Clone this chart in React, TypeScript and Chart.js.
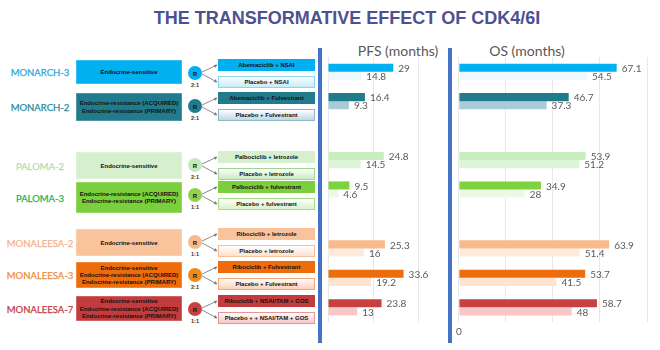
import React, { useEffect, useRef } from 'react';
import { Chart, registerables } from 'chart.js';
Chart.register(...registerables);

// ---- data ----
const studies = ['MONARCH-3', 'MONARCH-2', 'PALOMA-2', 'PALOMA-3', 'MONALEESA-2', 'MONALEESA-3', 'MONALEESA-7'];
const populations = [
  ['Endocrine-sensitive'],
  ['Endocrine-resistance (ACQUIRED)', 'Endocrine-resistance (PRIMARY)'],
  ['Endocrine-sensitive'],
  ['Endocrine-resistance (ACQUIRED)', 'Endocrine-resistance (PRIMARY)'],
  ['Endocrine-sensitive'],
  ['Endocrine-sensitive', 'Endocrine-resistance (ACQUIRED)', 'Endocrine-resistance (PRIMARY)'],
  ['Endocrine-sensitive', 'Endocrine-resistance (ACQUIRED)', 'Endocrine-resistance (PRIMARY)'],
];
const ratios = ['2:1', '2:1', '2:1', '1:1', '1:1', '2:1', '1:1'];
const treatmentArms = ['Abemaciclib + NSAI', 'Abemaciclib + Fulvestrant', 'Palbociclib + letrozole', 'Palbociclib + fulvestrant', 'Ribociclib + letrozole', 'Ribociclib + Fulvestrant', 'Ribociclib + NSAI/TAM + GOS'];
const placeboArms = ['Placebo + NSAI', 'Placebo + Fulvestrant', 'Placebo + letrozole', 'Placebo + fulvestrant', 'Placebo + letrozole', 'Placebo + Fulvestrant', 'Placebo + + NSAI/TAM + GOS'];

// bar chart rows (blank rows separate the drug families)
const categories = ['MONARCH-3', 'MONARCH-2', '', 'PALOMA-2', 'PALOMA-3', ' ', 'MONALEESA-2', 'MONALEESA-3', 'MONALEESA-7'];
const pfsTreatment = [29, 16.4, null, 24.8, 9.5, null, 25.3, 33.6, 23.8];
const pfsPlacebo = [14.8, 9.3, null, 14.5, 4.6, null, 16, 19.2, 13];
const osTreatment = [67.1, 46.7, null, 53.9, 34.9, null, 63.9, 53.7, 58.7];
const osPlacebo = [54.5, 37.3, null, 51.2, 28, null, 51.4, 41.5, 48];

// ---- styles ----
const treatmentColors = ['#00b0f0', '#217b8d', null, '#c8eec0', '#7ed23c', null, '#f8b98b', '#ed6d0c', '#c8403f'];
const placeboColors = ['#eef9fe', '#a9cbd9', null, '#dcf5d6', '#ecf9e5', null, '#fdebdc', '#fde3d2', '#f8c8c8'];
const nameColors = ['#1da9e0', '#2b8a9c', '#b5ddab', '#22b24c', '#f5b38a', '#ee8d40', '#c23a40'];
const mainColors = ['#00b0f0', '#217b8c', '#d6f0cd', '#7ccf3c', '#f9c39b', '#ef6c0a', '#c33c3d'];
const armEndColors = ['#c6ebf9', '#bcd6e1', '#c6ebbd', '#d6f2c6', '#fde0cb', '#fbcdb3', '#f8c3c3'];
const armBorderColors = ['#8fd3ee', '#8fb8c7', '#9fd595', '#a7dc86', '#f4c09a', '#f2a77a', '#e59595'];
const circleColors = ['#00b0f0', '#217b8c', '#c3ebb9', '#92d050', '#f9b98a', '#f08a1c', '#c9413f'];

// layout of the left flow panel
const blockTops = [60, 93, 152, 182, 229, 262, 296];
const mainHeights = [24, 28, 27, 31, 27, 26, 25];

const labelFont = '10px Lato, "Open Sans", sans-serif';

const valueLabels = {
  id: 'valueLabels',
  afterDatasetsDraw(chart: any) {
    const ctx = chart.ctx;
    ctx.save();
    ctx.font = labelFont;
    ctx.fillStyle = '#595959';
    ctx.textBaseline = 'middle';
    ctx.textAlign = 'left';
    chart.data.datasets.forEach((ds: any, di: number) => {
      const meta = chart.getDatasetMeta(di);
      meta.data.forEach((el: any, i: number) => {
        const v = ds.data[i];
        if (v == null) return;
        ctx.fillText(String(v), el.x + 5, el.y + 1);
      });
    });
    ctx.restore();
  },
};

function makeConfig(tr: (number | null)[], pl: (number | null)[], max: number, showZero: boolean, padLeft: number, padRight: number): any {
  return {
    type: 'bar',
    data: {
      labels: categories,
      datasets: [
        { label: 'CDK4/6i', data: tr, backgroundColor: treatmentColors, categoryPercentage: 0.55, barPercentage: 1 },
        { label: 'Placebo', data: pl, backgroundColor: placeboColors, categoryPercentage: 0.55, barPercentage: 1 },
      ],
    },
    options: {
      indexAxis: 'y',
      responsive: false,
      animation: false,
      layout: { padding: { left: padLeft, right: padRight, top: 7, bottom: 7 } },
      plugins: { legend: { display: false }, tooltip: { enabled: false } },
      scales: {
        y: { display: false, offset: true },
        x: {
          min: 0,
          max,
          border: { display: false },
          grid: { color: '#e8e8e8', drawTicks: false, lineWidth: 1 },
          ticks: {
            display: showZero,
            stepSize: 20,
            padding: 4,
            color: '#595959',
            font: { family: 'Lato', size: 10 },
            callback: (v: any) => (Number(v) === 0 ? '0' : ''),
          },
          afterFit: (scale: any) => {
            scale.height = 16;
          },
        },
      },
    },
    plugins: [valueLabels],
  };
}

function BarPanel(props: { tr: (number | null)[]; pl: (number | null)[]; max: number; showZero: boolean; left: number; width: number; padLeft: number; padRight: number }) {
  const ref = useRef<HTMLCanvasElement>(null);
  useEffect(() => {
    const chart = new Chart(ref.current as HTMLCanvasElement, makeConfig(props.tr, props.pl, props.max, props.showZero, props.padLeft, props.padRight));
    return () => chart.destroy();
  }, []);
  return (
    <canvas
      ref={ref}
      width={props.width}
      height={295}
      style={{ position: 'absolute', left: props.left, top: 50, width: props.width, height: 295 }}
    />
  );
}

function FlowPanel() {
  const boxFont = '"Liberation Sans", Arial, sans-serif';
  return (
    <svg width={330} height={350} style={{ position: 'absolute', left: 0, top: 0 }}>
      <defs>
        {studies.map((_, i) => (
          <linearGradient key={i} id={'g' + i} x1="0" y1="0" x2="0" y2="1">
            <stop offset="0" stopColor="#ffffff" />
            <stop offset="1" stopColor={armEndColors[i]} />
          </linearGradient>
        ))}
        <marker id="arr" viewBox="0 0 6 6" refX="5" refY="3" markerWidth="4" markerHeight="4" orient="auto">
          <path d="M0,0 L6,3 L0,6 z" fill="#7f7f7f" />
        </marker>
      </defs>
      {studies.map((name, i) => {
        const T = blockTops[i];
        const H = mainHeights[i];
        const mid = T + H / 2;
        const lines = populations[i];
        const cy = T + 13;
        const a1 = T - 1;
        const a2 = T + 16;
        return (
          <g key={name}>
            <text x={40} y={mid + 0.5} textAnchor="middle" dominantBaseline="central" fill={nameColors[i]} fontFamily="Lato, sans-serif" fontWeight={400} fontSize={9.5} stroke={nameColors[i]} strokeWidth={0.25}>
              {name}
            </text>
            <rect x={76} y={T} width={106} height={H} fill={mainColors[i]} stroke="#ffffff" strokeOpacity={0.4} />
            {lines.map((ln, k) => (
              <text key={k} x={129} y={mid + (k - (lines.length - 1) / 2) * 7.2} textAnchor="middle" dominantBaseline="central" fontFamily={boxFont} fontWeight={700} fontSize={6} fill="#111">
                {ln}
              </text>
            ))}
            <line x1={202} y1={cy - 1} x2={217} y2={a1 + 6} stroke="#7f7f7f" strokeWidth={0.9} markerEnd="url(#arr)" />
            <line x1={202} y1={cy + 1} x2={217} y2={a2 + 6} stroke="#7f7f7f" strokeWidth={0.9} markerEnd="url(#arr)" />
            <circle cx={195} cy={cy} r={7} fill={circleColors[i]} />
            <text x={195} y={cy + 0.5} textAnchor="middle" dominantBaseline="central" fontFamily={boxFont} fontWeight={700} fontSize={6} fill="#111">R</text>
            <text x={195} y={T + 24.5} textAnchor="middle" dominantBaseline="central" fontFamily={boxFont} fontWeight={700} fontSize={5.5} fill="#333">{ratios[i]}</text>
            <rect x={218} y={a1} width={97} height={12} fill={mainColors[i]} />
            <text x={266.5} y={a1 + 6.3} textAnchor="middle" dominantBaseline="central" fontFamily={boxFont} fontWeight={700} fontSize={6} fill="#111">{treatmentArms[i]}</text>
            <rect x={218.5} y={a2 + 0.5} width={96} height={11} fill={`url(#g${i})`} stroke={armBorderColors[i]} strokeWidth={1} />
            <text x={266.5} y={a2 + 6.3} textAnchor="middle" dominantBaseline="central" fontFamily={boxFont} fontWeight={700} fontSize={6} fill="#111">{placeboArms[i]}</text>
          </g>
        );
      })}
    </svg>
  );
}

export default function App() {
  return (
    <div style={{ position: 'fixed', left: 0, top: 0, width: 660, height: 350, background: '#ffffff', overflow: 'hidden', fontFamily: 'Arial, sans-serif' }}>
      <div style={{ position: 'absolute', left: 0, width: 694, top: 9, textAlign: 'center', fontFamily: '"Liberation Sans", Arial, sans-serif', fontWeight: 700, fontSize: 18, lineHeight: '18px', color: '#4d5190', whiteSpace: 'nowrap' }}>
        THE TRANSFORMATIVE EFFECT OF CDK4/6I
      </div>
      <FlowPanel />
      <div style={{ position: 'absolute', left: 318, top: 48, width: 4, height: 295, background: '#4472c4' }} />
      <div style={{ position: 'absolute', left: 448, top: 48, width: 4, height: 295, background: '#4472c4' }} />
      <div style={{ position: 'absolute', left: 338, width: 120, top: 43, textAlign: 'center', fontFamily: 'Lato, sans-serif', fontSize: 14, lineHeight: '16px', color: '#595959' }}>PFS (months)</div>
      <div style={{ position: 'absolute', left: 467, width: 120, top: 43, textAlign: 'center', fontFamily: 'Lato, sans-serif', fontSize: 14, lineHeight: '16px', color: '#595959' }}>OS (months)</div>
      <BarPanel tr={pfsTreatment} pl={pfsPlacebo} max={40} showZero={false} left={322} width={112} padLeft={6} padRight={16} />
      <BarPanel tr={osTreatment} pl={osPlacebo} max={80} showZero={true} left={452} width={206} padLeft={5} padRight={11} />
    </div>
  );
}
